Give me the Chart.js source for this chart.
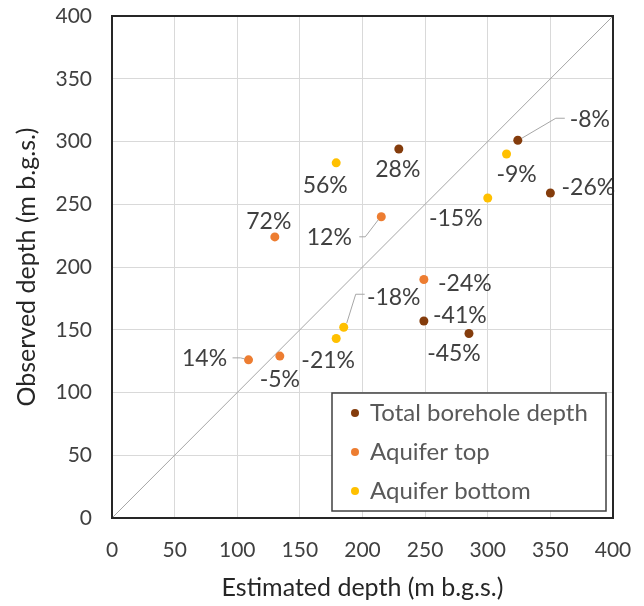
<!DOCTYPE html>
<html lang="en">
<head>
    <meta charset="UTF-8">
    <title>Estimated vs observed depth</title>
    <script src="https://cdn.jsdelivr.net/npm/chart.js@4.4.1/dist/chart.umd.min.js"></script>
    <style>
        html, body {
            margin: 0;
            padding: 0;
            background: #fff;
        }
        #wrap {
            width: 644px;
            height: 606px;
        }
    </style>
</head>
<body>
    <div id="wrap"><canvas id="chart"></canvas></div>

    <script>
        // values (m below ground surface)
        const totalEstimated = [229, 324, 350, 249, 285];
        const totalObserved  = [294, 301, 259, 157, 147];
        const totalLabels    = ['28%', '-8%', '-26%', '-41%', '-45%'];

        const topEstimated = [130, 215, 249, 109, 134];
        const topObserved  = [224, 240, 190, 126, 129];
        const topLabels    = ['72%', '12%', '-24%', '14%', '-5%'];

        const bottomEstimated = [179, 315, 300, 185, 179];
        const bottomObserved  = [283, 290, 255, 152, 143];
        const bottomLabels    = ['56%', '-9%', '-15%', '-18%', '-21%'];

        const oneToOne = [0, 400];
        const axisTicks = [0, 50, 100, 150, 200, 250, 300, 350, 400];

        // label placement, pixels relative to the marker
        const totalOffsets  = [[-1, 21], [72, -21], [38, -5], [36, -5], [-15, 20]];
        const topOffsets    = [[-6, -15], [-52, 21], [41, 4], [-44, -1], [0, 23]];
        const bottomOffsets = [[-11, 23], [10, 21], [-32, 21], [50, -30], [-8, 22]];

        // leader lines (polyline relative to the marker) for a few labels
        const leaders = {
            '0-1': [[47, -22], [38, -22], [4, -2]],
            '1-1': [[-22, 20], [-16, 20], [-3, 3]],
            '2-3': [[21, -33], [12, -33], [3, -4]],
            '1-3': [[-16, -2], [-8, -2], [-4, -1]]
        };

        const FONT = 'Lato, "Open Sans", sans-serif';

        function points(xs, ys) {
            return xs.map((x, i) => ({x: x, y: ys[i]}));
        }

        // keep chart.js from adding room for the end tick labels
        function fixBox(size) {
            return s => {
                if (s.isHorizontal()) s.height = size; else s.width = size;
                s.paddingTop = s.paddingBottom = s.paddingLeft = s.paddingRight = 0;
            };
        }

        const pointLabels = {
            id: 'pointLabels',
            afterDatasetsDraw(chart) {
                const ctx = chart.ctx;
                ctx.save();
                // leader lines first
                ctx.strokeStyle = '#a6a6a6';
                ctx.lineWidth = 1;
                chart.data.datasets.forEach((ds, di) => {
                    if (!ds.labels) return;
                    const meta = chart.getDatasetMeta(di);
                    meta.data.forEach((pt, i) => {
                        const path = leaders[di + '-' + i];
                        if (!path) return;
                        ctx.beginPath();
                        path.forEach((p, k) => {
                            if (k === 0) ctx.moveTo(pt.x + p[0], pt.y + p[1]);
                            else ctx.lineTo(pt.x + p[0], pt.y + p[1]);
                        });
                        ctx.stroke();
                    });
                });
                ctx.font = '23px ' + FONT;
                ctx.fillStyle = '#404040';
                ctx.textAlign = 'center';
                ctx.textBaseline = 'middle';
                chart.data.datasets.forEach((ds, di) => {
                    if (!ds.labels) return;
                    const meta = chart.getDatasetMeta(di);
                    meta.data.forEach((pt, i) => {
                        const off = ds.labelOffsets[i];
                        ctx.fillText(ds.labels[i], pt.x + off[0], pt.y + off[1]);
                    });
                });
                ctx.restore();
            }
        };

        const frameAndLegend = {
            id: 'frameAndLegend',
            afterDraw(chart) {
                const ctx = chart.ctx;
                const a = chart.chartArea;
                ctx.save();
                ctx.strokeStyle = '#262626';
                ctx.lineWidth = 2;
                ctx.strokeRect(a.left, a.top, a.right - a.left, a.bottom - a.top);

                // legend box in the lower right of the plot
                const box = {x: 332, y: 393, w: 274, h: 118};
                ctx.fillStyle = '#fff';
                ctx.fillRect(box.x, box.y, box.w, box.h);
                ctx.strokeStyle = '#404040';
                ctx.lineWidth = 1.5;
                ctx.strokeRect(box.x, box.y, box.w, box.h);

                ctx.font = '24px ' + FONT;
                ctx.textBaseline = 'middle';
                ctx.textAlign = 'left';
                let row = 0;
                chart.data.datasets.forEach(ds => {
                    if (!ds.labels) return;
                    const cy = box.y + 20 + row * 39;
                    ctx.beginPath();
                    ctx.arc(box.x + 23, cy, 4, 0, Math.PI * 2);
                    ctx.fillStyle = ds.backgroundColor;
                    ctx.fill();
                    ctx.fillStyle = '#595959';
                    ctx.fillText(ds.label, box.x + 38, cy);
                    row++;
                });
                ctx.restore();
            }
        };

        const tickFont = {family: FONT, size: 21};
        const titleFont = {family: FONT, size: 25};

        new Chart(document.getElementById('chart'), {
            type: 'scatter',
            data: {
                datasets: [
                    {
                        label: 'Total borehole depth',
                        data: points(totalEstimated, totalObserved),
                        labels: totalLabels,
                        labelOffsets: totalOffsets,
                        backgroundColor: '#843c0c',
                        borderWidth: 0,
                        pointRadius: 4.5
                    },
                    {
                        label: 'Aquifer top',
                        data: points(topEstimated, topObserved),
                        labels: topLabels,
                        labelOffsets: topOffsets,
                        backgroundColor: '#ed7d31',
                        borderWidth: 0,
                        pointRadius: 4.5
                    },
                    {
                        label: 'Aquifer bottom',
                        data: points(bottomEstimated, bottomObserved),
                        labels: bottomLabels,
                        labelOffsets: bottomOffsets,
                        backgroundColor: '#ffc000',
                        borderWidth: 0,
                        pointRadius: 4.5
                    },
                    {
                        label: '1:1',
                        type: 'line',
                        data: points(oneToOne, oneToOne),
                        borderColor: '#a6a6a6',
                        borderWidth: 1,
                        pointRadius: 0,
                        order: 10
                    }
                ]
            },
            options: {
                responsive: true,
                maintainAspectRatio: false,
                animation: false,
                layout: {padding: {left: 0, top: 16, right: 31, bottom: 0}},
                plugins: {
                    legend: {display: false},
                    tooltip: {enabled: false}
                },
                scales: {
                    x: {
                        type: 'linear',
                        min: 0,
                        max: 400,
                        afterBuildTicks: s => { s.ticks = axisTicks.map(v => ({value: v})); },
                        afterFit: fixBox(88),
                        grid: {color: '#d9d9d9', lineWidth: 1, drawTicks: false},
                        border: {display: false},
                        ticks: {font: tickFont, color: '#404040', padding: 20, maxRotation: 0},
                        title: {
                            display: true,
                            text: 'Estimated depth (m b.g.s.)',
                            font: titleFont,
                            color: '#262626',
                            padding: {top: 0, bottom: 3}
                        }
                    },
                    y: {
                        type: 'linear',
                        min: 0,
                        max: 400,
                        afterBuildTicks: s => { s.ticks = axisTicks.map(v => ({value: v})); },
                        afterFit: fixBox(112),
                        grid: {color: '#d9d9d9', lineWidth: 1, drawTicks: false},
                        border: {display: false},
                        ticks: {font: tickFont, color: '#404040', padding: 20},
                        title: {
                            display: true,
                            text: 'Observed depth (m b.g.s.)',
                            font: titleFont,
                            color: '#262626',
                            padding: {top: 12, bottom: 0}
                        }
                    }
                }
            },
            plugins: [pointLabels, frameAndLegend]
        });
    </script>
</body>
</html>
